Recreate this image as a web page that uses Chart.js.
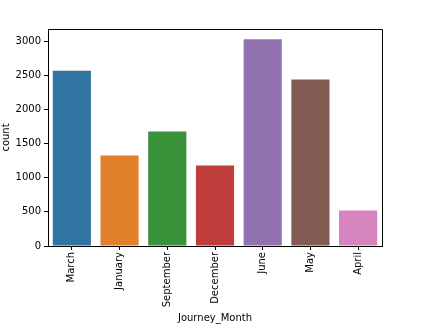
<!DOCTYPE html>
<html>
<head>
<meta charset="utf-8">
<script src="https://cdn.jsdelivr.net/npm/chart.js@4/dist/chart.umd.min.js"></script>
<style>
html,body{margin:0;padding:0;background:#fff;}
#wrap{width:428px;height:328px;}
</style>
</head>
<body>
<div id="wrap"><canvas id="c" width="428" height="328"></canvas></div>
<script>
const categories = ["March","January","September","December","June","May","April"];
const counts = [2570, 1327, 1680, 1180, 3030, 2440, 520];
const barColors = ["#3274a1","#e1812c","#3a923a","#c03d3e","#9372b2","#845b53","#d684bd"];
const yTicks = [0,500,1000,1500,2000,2500,3000];
const xTitle = "Journey_Month";
const yTitle = "count";

const FONT = "'DejaVu Sans', sans-serif";

const boxPlugin = {
  id: 'box',
  afterDraw(chart){
    const a = chart.chartArea, ctx = chart.ctx;
    ctx.save();
    ctx.strokeStyle = '#000';
    ctx.lineWidth = 1;
    ctx.beginPath();
    ctx.moveTo(Math.round(a.left)+0.5, Math.round(a.top)+0.5);
    ctx.lineTo(Math.round(a.right)+0.5, Math.round(a.top)+0.5);
    ctx.lineTo(Math.round(a.right)+0.5, Math.round(a.bottom)+0.5);
    ctx.stroke();
    ctx.restore();
  }
};

new Chart(document.getElementById('c'), {
  type: 'bar',
  data: {
    labels: categories,
    datasets: [{
      data: counts,
      backgroundColor: barColors,
      borderWidth: 0,
      categoryPercentage: 0.8,
      barPercentage: 1.0
    }]
  },
  options: {
    responsive: false,
    animation: false,
    devicePixelRatio: 1,
    layout: { padding: { left: 0, top: 29, right: 46, bottom: 0 } },
    plugins: { legend: { display: false }, tooltip: { enabled: false } },
    scales: {
      x: {
        grid: { display: true, offset: false, drawOnChartArea: false, drawTicks: true, tickLength: 4, color: '#000' },
        border: { display: true, color: '#000', width: 1 },
        ticks: { color: '#000', font: { family: FONT, size: 10 }, minRotation: 90, maxRotation: 90, padding: 2, autoSkip: false },
        title: { display: true, text: xTitle, color: '#000', font: { family: FONT, size: 10 }, padding: { top: 2, bottom: 4 } },
        afterFit(s){ s.height = 82; }
      },
      y: {
        min: 0,
        max: 3181,
        afterBuildTicks(s){ s.ticks = yTicks.map(v => ({ value: v })); },
        grid: { display: true, drawOnChartArea: false, drawTicks: true, tickLength: 4, color: '#000' },
        border: { display: true, color: '#000', width: 1 },
        ticks: { color: '#000', font: { family: FONT, size: 10 }, padding: 3, callback: v => String(v) },
        title: { display: true, text: yTitle, color: '#000', font: { family: FONT, size: 10 }, padding: { top: 0, bottom: 4 } },
        afterFit(s){ s.width = 48; }
      }
    }
  },
  plugins: [boxPlugin]
});
</script>
</body>
</html>
